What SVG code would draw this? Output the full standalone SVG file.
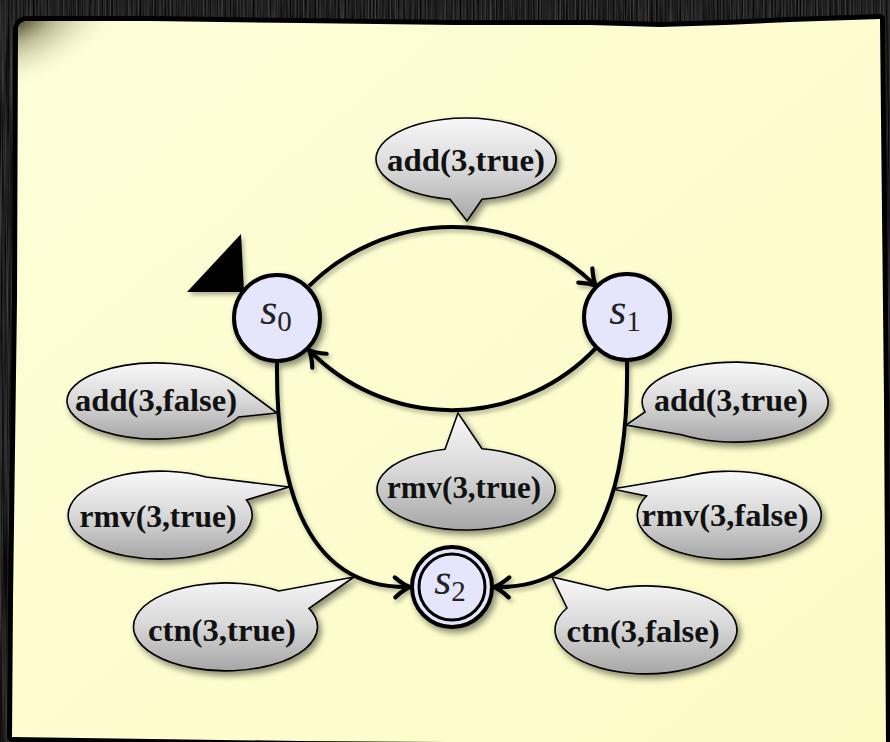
<svg xmlns="http://www.w3.org/2000/svg" width="890" height="742" viewBox="0 0 890 742">
  <defs>
    <style>
      .bubble { fill: url(#bub); stroke: #000; stroke-width: 1.6; filter: url(#shade); }
      .lbl { font-family: "Liberation Serif", "Times New Roman", serif; font-weight: bold; font-size: 31px; fill: #111; text-anchor: middle; }
      .state { fill: #e5e5fc; stroke: #000; stroke-width: 4; }
      .inner { fill: none; stroke: #000; stroke-width: 3; }
      .name { font-family: "Liberation Serif", "DejaVu Serif", serif; font-style: italic; font-size: 44px; fill: #222; text-anchor: middle; }
      .sub { font-style: normal; font-size: 29px; }
      .edge { fill: none; stroke: #000; stroke-width: 4; marker-end: url(#tip); }
    </style>
    <!-- dark wooden backdrop -->
    <filter id="wood" x="0" y="0" width="100%" height="100%" filterUnits="userSpaceOnUse" color-interpolation-filters="sRGB">
      <feTurbulence type="fractalNoise" baseFrequency="0.6 0.008" numOctaves="3" seed="7"/>
      <feColorMatrix type="matrix" values="0.45 0 0 0 -0.1  0.45 0 0 0 -0.1  0.45 0 0 0 -0.1  0 0 0 0 1"/>
    </filter>
    <filter id="shade" x="-20%" y="-20%" width="140%" height="150%">
      <feDropShadow dx="3" dy="4" stdDeviation="3" flood-color="#000" flood-opacity="0.45"/>
    </filter>
    <filter id="soft" x="-10%" y="-10%" width="120%" height="130%">
      <feDropShadow dx="2" dy="3" stdDeviation="2" flood-color="#000" flood-opacity="0.3"/>
    </filter>
    <linearGradient id="paper" x1="0" y1="0" x2="1" y2="1">
      <stop offset="0" stop-color="#fefed8"/>
      <stop offset="1" stop-color="#fcfbc6"/>
    </linearGradient>
    <radialGradient id="curl" gradientUnits="userSpaceOnUse" cx="18" cy="21" r="130" gradientTransform="translate(18 21) rotate(-25) scale(1 0.5) translate(-18 -21)">
      <stop offset="0" stop-color="#3e3c24" stop-opacity="0.95"/>
      <stop offset="0.35" stop-color="#7d7b52" stop-opacity="0.5"/>
      <stop offset="1" stop-color="#fefed8" stop-opacity="0"/>
    </radialGradient>
    <linearGradient id="bub" x1="0" y1="0" x2="0" y2="1">
      <stop offset="0" stop-color="#f8f8f8"/>
      <stop offset="0.5" stop-color="#d8d8d8"/>
      <stop offset="1" stop-color="#a6a6a6"/>
    </linearGradient>
    <marker id="tip" markerUnits="userSpaceOnUse" viewBox="-20 -15 30 30" markerWidth="30" markerHeight="30" refX="0" refY="0" orient="auto" overflow="visible">
      <path d="M-15,-10 Q-6,-2 0,0 Q-6,2 -15,10" fill="none" stroke="#000" stroke-width="4.2" stroke-linecap="round" stroke-linejoin="round"/>
    </marker>
  </defs>

  <!-- backdrop -->
  <rect x="0" y="0" width="890" height="742" fill="#111" filter="url(#wood)"/>

  <!-- sheet of paper with black rim -->
  <path d="M18,31 Q18,21 28,21 L150,21 L300,23 L455,25 L590,25 L660,27 L725,25 L790,22 L880,19 L881,120 L884,400 L886,745 L300,741 L12,737 L13,600 L17,300 Z"
        fill="url(#paper)" stroke="#000" stroke-width="10" stroke-linejoin="round" paint-order="stroke"/>
  <path d="M18,31 Q18,21 28,21 L180,21 L180,160 L18,160 Z" fill="url(#curl)"/>

  <!-- transitions -->
  <g id="edges" filter="url(#soft)">
    <path class="edge" d="M309,286 A204,204 0 0 1 596,286"/>
    <path class="edge" d="M596,348 A199,199 0 0 1 309,350"/>
    <path class="edge" d="M277,363 C276,470 298,590 410,587"/>
    <path class="edge" d="M627,361 C629,480 604,590 494,587"/>
    <!-- initial-state marker -->
    <polygon points="187,292 241,234 244,292" fill="#000"/>
  </g>

  <!-- states -->
  <g id="s0">
    <circle class="state" cx="277" cy="318" r="43" filter="url(#shade)"/>
    <text class="name" x="276" y="324">s<tspan class="sub" dy="7">0</tspan></text>
  </g>
  <g id="s1">
    <circle class="state" cx="627" cy="317" r="43" filter="url(#shade)"/>
    <text class="name" x="625" y="324">s<tspan class="sub" dy="7">1</tspan></text>
  </g>
  <g id="s2">
    <circle class="state" cx="452" cy="587" r="40" filter="url(#shade)"/>
    <circle class="inner" cx="452" cy="587" r="33"/>
    <text class="name" x="450" y="594">s<tspan class="sub" dy="7">2</tspan></text>
  </g>

  <!-- callouts -->
  <g id="c-add-true-top">
    <path class="bubble" d="M482,199.3 A90,41 0 1 0 450,199.3 L467,221 Z"/>
    <text class="lbl" x="466" y="171" textLength="158" lengthAdjust="spacingAndGlyphs">add(3,true)</text>
  </g>
  <g id="c-add-false">
    <path class="bubble" d="M235,382 A90,38 0 1 0 238.6,417 L277,413 Z"/>
    <text class="lbl" x="156" y="411" textLength="162" lengthAdjust="spacingAndGlyphs">add(3,false)</text>
  </g>
  <g id="c-rmv-true-left">
    <path class="bubble" d="M206,477 A92,44 0 1 0 246.5,500 L289,487 Z"/>
    <text class="lbl" x="158" y="527" textLength="157" lengthAdjust="spacingAndGlyphs">rmv(3,true)</text>
  </g>
  <g id="c-ctn-true">
    <path class="bubble" d="M278.8,591 A92,44 0 1 0 309,608.4 L354,577 Z"/>
    <text class="lbl" x="222" y="641" textLength="148" lengthAdjust="spacingAndGlyphs">ctn(3,true)</text>
  </g>
  <g id="c-add-true-right">
    <path class="bubble" d="M681.6,434.8 A93,40 0 1 0 645,412 L626,425 Z"/>
    <text class="lbl" x="731" y="411" textLength="154" lengthAdjust="spacingAndGlyphs">add(3,true)</text>
  </g>
  <g id="c-rmv-false">
    <path class="bubble" d="M646.6,496 A92,44 0 1 0 684,477 L612,489 Z"/>
    <text class="lbl" x="725" y="526" textLength="167" lengthAdjust="spacingAndGlyphs">rmv(3,false)</text>
  </g>
  <g id="c-rmv-true-mid">
    <path class="bubble" d="M445,449.2 A89,41 0 1 0 482,448.7 L458,413 Z"/>
    <text class="lbl" x="464" y="498" textLength="154" lengthAdjust="spacingAndGlyphs">rmv(3,true)</text>
  </g>
  <g id="c-ctn-false">
    <path class="bubble" d="M567,608 A91,44 0 1 0 607.5,590 L552,577 Z"/>
    <text class="lbl" x="643" y="642" textLength="153" lengthAdjust="spacingAndGlyphs">ctn(3,false)</text>
  </g>
</svg>
